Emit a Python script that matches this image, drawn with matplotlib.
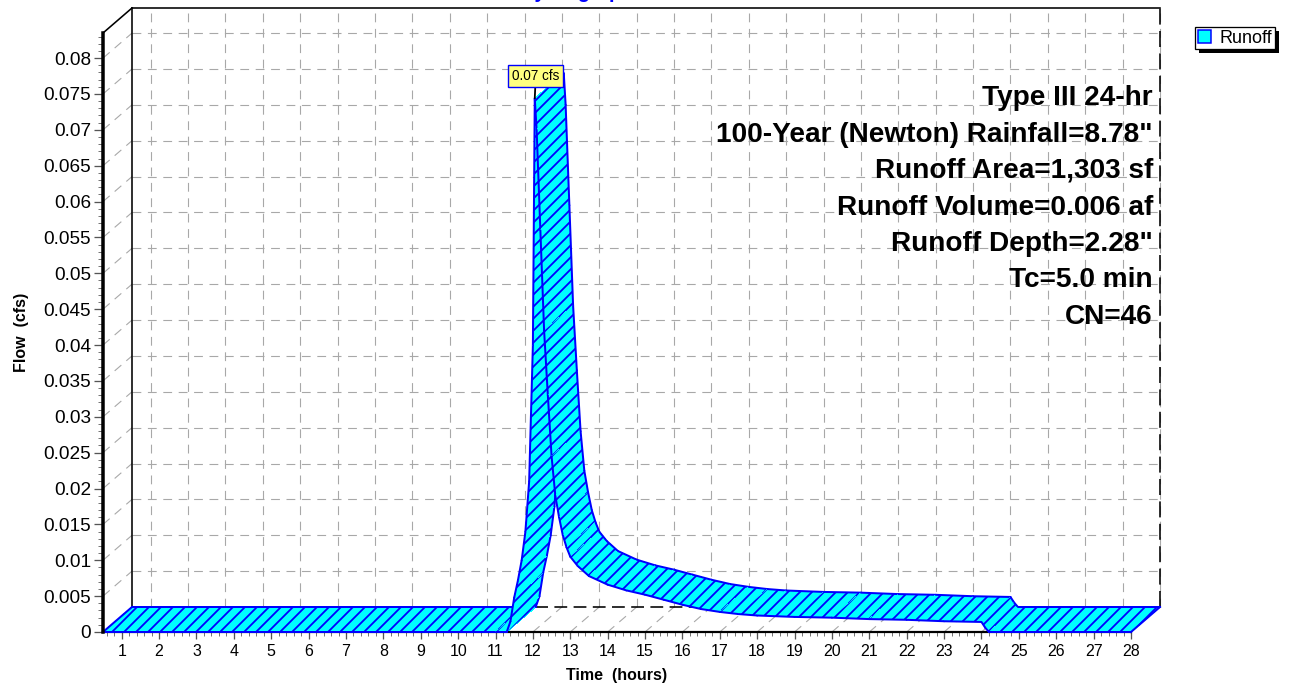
import matplotlib
matplotlib.use("Agg")
import matplotlib.pyplot as plt
from matplotlib.patches import Polygon, Patch, Rectangle
from matplotlib.ticker import MultipleLocator

# ---------------------------------------------------------------- data
time_hr = [0.5, 11.0, 11.3, 11.4, 11.5, 11.6, 11.7, 11.8, 11.9, 12.0, 12.05,
           12.1, 12.2, 12.3, 12.4, 12.5, 12.6, 12.7, 12.8, 12.9, 13.0, 13.2,
           13.5, 14.0, 14.5, 15.0, 15.5, 16.0, 16.5, 17.0, 17.5, 18.0, 19.0,
           20.0, 21.0, 22.0, 23.0, 24.0, 24.1, 24.2, 28.0]
flow_cfs = [0.0, 0.0, 0.0, 0.0015, 0.0048, 0.0072, 0.0100, 0.0140, 0.0210,
            0.0400, 0.0744, 0.0700, 0.0560, 0.0420, 0.0330, 0.0245, 0.0190,
            0.0160, 0.0135, 0.0118, 0.0105, 0.0092, 0.0078, 0.0066, 0.0058,
            0.0052, 0.0045, 0.0038, 0.0032, 0.0028, 0.0025, 0.0023, 0.0021,
            0.0020, 0.0018, 0.0017, 0.0015, 0.0014, 0.0006, 0.0, 0.0]

hour_ticks = list(range(1, 29))
flow_ticks = [0, 0.005, 0.01, 0.015, 0.02, 0.025, 0.03, 0.035, 0.04, 0.045,
              0.05, 0.055, 0.06, 0.065, 0.07, 0.075, 0.08]
flow_tick_labels = ["0", "0.005", "0.01", "0.015", "0.02", "0.025", "0.03",
                    "0.035", "0.04", "0.045", "0.05", "0.055", "0.06", "0.065",
                    "0.07", "0.075", "0.08"]

info_lines = ["Type III 24-hr",
              "100-Year (Newton) Rainfall=8.78\"",
              "Runoff Area=1,303 sf",
              "Runoff Volume=0.006 af",
              "Runoff Depth=2.28\"",
              "Tc=5.0 min",
              "CN=46"]

series_name = "Runoff"
chart_title = "Hydrograph"

# ---------------------------------------------------------------- style
W, H, DPI = 1294, 686, 72
CYAN = "#00ffff"
BLUE = "#0000ff"
GRID = "#a8a8a8"
plt.rcParams["font.family"] = ["Liberation Sans", "DejaVu Sans"]
plt.rcParams["hatch.linewidth"] = 1.8
plt.rcParams["hatch.color"] = BLUE

fig = plt.figure(figsize=(W / DPI, H / DPI), dpi=DPI)
fig.patch.set_facecolor("white")

# front plane of the box
L, R, B, T = 103, 1131, 632, 33
ax = fig.add_axes([L / W, (H - B) / H, (R - L) / W, (B - T) / H])
x0, x1 = 0.5, 28.0
y0, y1 = 0.0, 0.0835
ax.set_xlim(x0, x1)
ax.set_ylim(y0, y1)
ax.patch.set_alpha(0)

# depth offset of the back plane, in data units (29 px right, 25 px up)
DT = 29 / ((R - L) / (x1 - x0))
DQ = 25 / ((B - T) / (y1 - y0))

dash = (0, (8, 6))

def seg(xs, ys, **kw):
    ax.plot(xs, ys, clip_on=False, **kw)

# back wall grid
for q in flow_ticks[1:]:
    seg([x0 + DT, x1 + DT], [q + DQ, q + DQ], color=GRID, lw=1.1, ls=dash, zorder=1)
    seg([x0, x0 + DT], [q, q + DQ], color=GRID, lw=1.1, ls=dash, zorder=1)
for h in hour_ticks:
    seg([h + DT, h + DT], [DQ, y1 + DQ], color=GRID, lw=1.1, ls=dash, zorder=1)
    seg([h, h + DT], [0, DQ], color=GRID, lw=1.1, ls=dash, zorder=1)

# box edges
seg([x0 + DT, x1 + DT], [DQ, DQ], color="black", lw=1.6, ls=(0, (8, 4)), zorder=1.5)
seg([x0 + DT, x0 + DT], [DQ, y1 + DQ], color="black", lw=1.6, zorder=1.5)
seg([x0 + DT, x1 + DT], [y1 + DQ, y1 + DQ], color="black", lw=1.6, zorder=1.5)
seg([x1 + DT, x1 + DT], [DQ, y1 + DQ], color="black", lw=1.6, ls=(0, (10, 4)), zorder=1.5)
seg([x0, x0 + DT], [y1, y1 + DQ], color="black", lw=1.6, zorder=1.5)

# ribbon: one quad per time step, drawn in time order
n = len(time_hr)
for i in range(n - 1):
    ta, tb = time_hr[i], time_hr[i + 1]
    qa, qb = flow_cfs[i], flow_cfs[i + 1]
    quad = [(ta, qa), (tb, qb), (tb + DT, qb + DQ), (ta + DT, qa + DQ)]
    z = 3 + i * 0.01
    ax.add_patch(Polygon(quad, closed=True, facecolor=CYAN, edgecolor=BLUE,
                         lw=0, hatch="//", antialiased=False, clip_on=False,
                         zorder=z))
    seg([ta, tb], [qa, qb], color=BLUE, lw=2, zorder=z + 0.005,
        solid_capstyle="round")
    seg([ta + DT, tb + DT], [qa + DQ, qb + DQ], color=BLUE, lw=2,
        zorder=z + 0.005, solid_capstyle="round")
seg([time_hr[0], time_hr[0] + DT], [flow_cfs[0], flow_cfs[0] + DQ],
    color=BLUE, lw=2, zorder=3)
seg([time_hr[-1], time_hr[-1] + DT], [flow_cfs[-1], flow_cfs[-1] + DQ],
    color=BLUE, lw=2, zorder=10)

# peak label
ipk = max(range(n), key=lambda k: flow_cfs[k])
ax.annotate(f"{flow_cfs[ipk]:.2f} cfs", xy=(time_hr[ipk], flow_cfs[ipk]),
            xytext=(1, 22), textcoords="offset points", ha="center",
            va="center", fontsize=13.5, zorder=20,
            bbox=dict(boxstyle="square,pad=0.3", fc="#ffff80", ec=BLUE, lw=1.4),
            arrowprops=dict(arrowstyle="-", color="black", lw=1.8,
                            shrinkA=0, shrinkB=0))

# axes, ticks
for s in ("top", "right"):
    ax.spines[s].set_visible(False)
ax.spines["left"].set_linewidth(3.5)
ax.spines["bottom"].set_linewidth(2.2)
ax.spines["left"].set_zorder(12)
ax.spines["bottom"].set_zorder(2)

ax.set_xticks(hour_ticks)
ax.set_xticklabels([str(h) for h in hour_ticks])
ax.xaxis.set_minor_locator(MultipleLocator(0.2))
ax.set_yticks(flow_ticks)
ax.set_yticklabels(flow_tick_labels)
ax.yaxis.set_minor_locator(MultipleLocator(0.001))
ax.tick_params(axis="x", which="major", length=7, width=1.3, color="#555555",
               labelsize=16, pad=5)
ax.tick_params(axis="x", which="minor", length=4, width=1, color="#777777")
ax.tick_params(axis="y", which="major", length=9, width=1.3, color="#555555",
               labelsize=19, pad=3)
ax.tick_params(axis="y", which="minor", length=5, width=1, color="#777777")

ax.set_xlabel("Time  (hours)", fontsize=16, fontweight="bold", labelpad=9)
ax.set_ylabel("Flow  (cfs)", fontsize=16, fontweight="bold", labelpad=14)

# title (sits at the very top edge)
fig.text(577 / W, 1 + 1.5 / H, chart_title, ha="center", va="baseline",
         fontsize=20, fontweight="bold", color=BLUE)

# run parameters
line_y = [98, 135, 171, 208, 244, 280, 317]
for txt, yy in zip(info_lines, line_y):
    fig.text(1153 / W, 1 - yy / H, txt, ha="right", va="center",
             fontsize=28, fontweight="bold", color="black", zorder=15)

# legend with a solid drop shadow
leg = fig.legend(handles=[Patch(facecolor=CYAN, edgecolor=BLUE, lw=1.5,
                                label=series_name)],
                 loc="upper left", bbox_to_anchor=(1195 / W, 1 - 27 / H),
                 frameon=True, fancybox=False, edgecolor="black",
                 framealpha=1, facecolor="white",
                 fontsize=18, handlelength=0.75, handleheight=0.75,
                 handletextpad=0.45, borderpad=0.15, borderaxespad=0)
leg.get_frame().set_linewidth(1.3)
leg.set_zorder(30)
fig.canvas.draw()
bb = leg.get_window_extent()
fig.patches.append(Rectangle((bb.x0 + 4, bb.y0 - 4), bb.width, bb.height,
                             transform=None, facecolor="black",
                             edgecolor="none", zorder=29))

fig.savefig("out.png", dpi=DPI, facecolor="white")
